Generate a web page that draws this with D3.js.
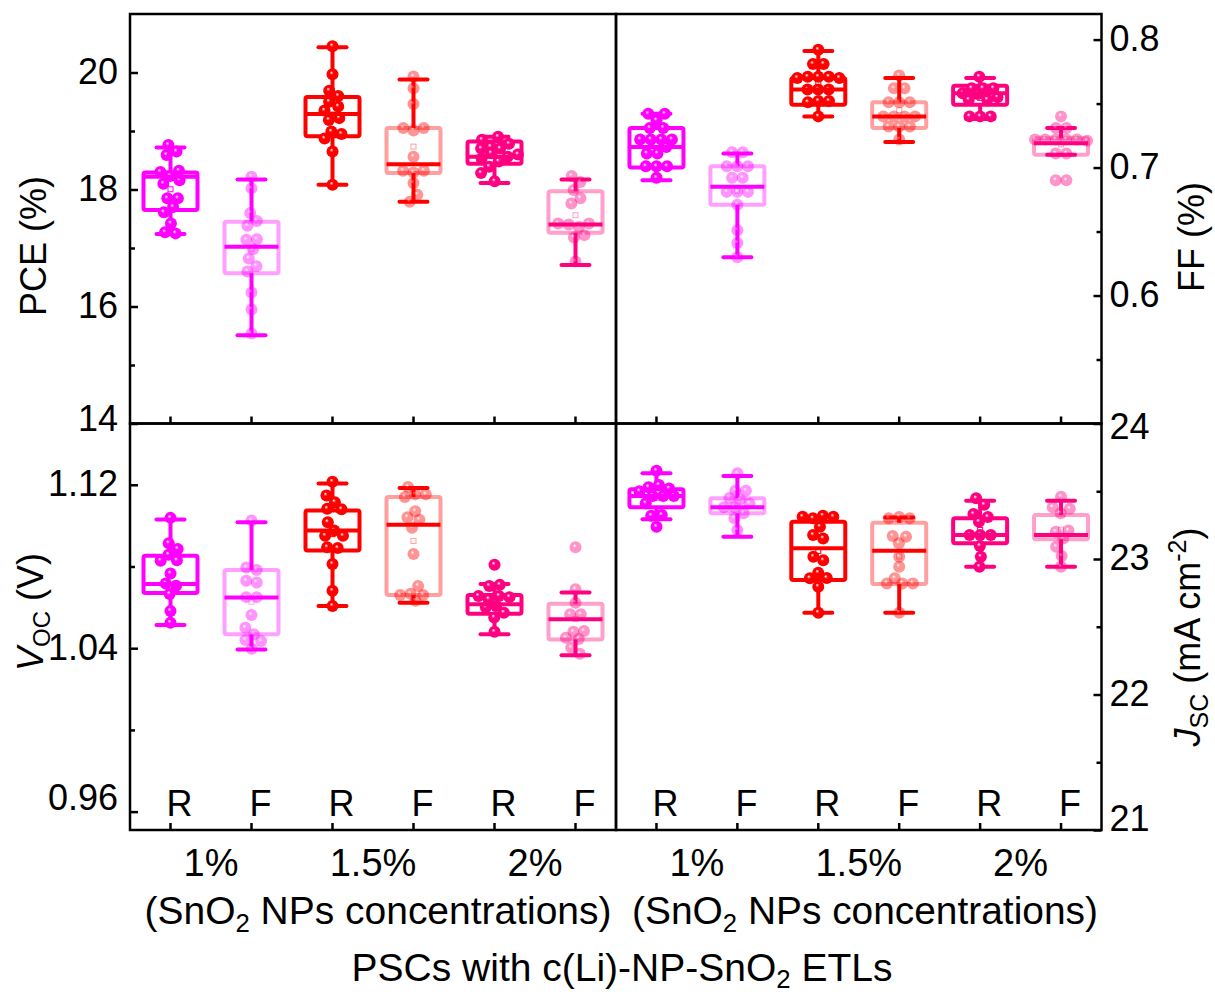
<!DOCTYPE html>
<html>
<head>
<meta charset="utf-8">
<style>
  body { margin: 0; background: #fff; }
  svg { display: block; font-family: "Liberation Sans", Arial, sans-serif; }
</style>
</head>
<body>
<script src="https://cdn.jsdelivr.net/npm/d3@7"></script>
<script>
var groups = ["1R", "1F", "15R", "15F", "2R", "2F"];
var runLabels = ["R", "F", "R", "F", "R", "F"];
var concLabels = ["1%", "1.5%", "2%"];
var darkColors = ["#ff00ff", "#ff00ff", "#ff0000", "#ff0000", "#ff0080", "#ff0080"];
var boxColors = ["#ff00ff", "#ffa0ff", "#ff0000", "#ffa0a0", "#ff0080", "#ffa0cc"];

// box stats: [min, q1, median, q3, max]
var pceBox = [[17.24, 17.65, 18.22, 18.29, 18.72], [15.51, 16.57, 17.02, 17.45, 18.17],
  [18.08, 18.91, 19.29, 19.58, 20.43], [17.79, 18.28, 18.43, 19.05, 19.88],
  [18.11, 18.44, 18.56, 18.82, 18.90], [16.71, 17.26, 17.40, 17.97, 18.17]];
var pcePts = [
  [18.76, 18.65, 18.59, 18.32, 18.30, 18.23, 18.16, 18.10, 17.85, 17.85, 17.70, 17.61, 17.42, 17.25, 17.27],
  [18.22, 18.02, 17.60, 17.46, 17.38, 17.14, 17.15, 16.98, 16.82, 16.69, 16.60, 16.24, 15.95, 15.54],
  [20.45, 19.97, 19.69, 19.60, 19.50, 19.42, 19.35, 19.19, 19.22, 18.99, 18.95, 18.87, 18.65, 18.08],
  [19.93, 19.73, 19.46, 19.01, 19.05, 19.05, 18.56, 18.29, 18.32, 18.32, 18.11, 17.91, 17.79],
  [18.90, 18.85, 18.73, 18.78, 18.70, 18.70, 18.62, 18.60, 18.53, 18.48, 18.56, 18.39, 18.28, 18.14],
  [18.23, 18.13, 17.99, 17.85, 17.76, 17.42, 17.36, 17.40, 17.22, 17.18, 17.42, 16.77]];

var ffBox = [[0.690, 0.700, 0.716, 0.731, 0.742], [0.630, 0.671, 0.685, 0.701, 0.711],
  [0.740, 0.749, 0.761, 0.770, 0.791], [0.720, 0.731, 0.740, 0.751, 0.770],
  [0.738, 0.749, 0.758, 0.764, 0.770], [0.710, 0.710, 0.719, 0.723, 0.731]];
var ffPts = [
  [0.742, 0.742, 0.737, 0.731, 0.731, 0.722, 0.722, 0.722, 0.722, 0.716, 0.711, 0.711, 0.701, 0.701, 0.701, 0.692],
  [0.712, 0.712, 0.701, 0.701, 0.701, 0.692, 0.692, 0.681, 0.681, 0.681, 0.671, 0.651, 0.641, 0.630],
  [0.792, 0.781, 0.781, 0.771, 0.771, 0.770, 0.771, 0.770, 0.761, 0.761, 0.761, 0.752, 0.751, 0.752, 0.740],
  [0.772, 0.762, 0.762, 0.751, 0.751, 0.751, 0.740, 0.740, 0.740, 0.740, 0.732, 0.732, 0.732, 0.722],
  [0.771, 0.762, 0.762, 0.762, 0.7575, 0.753, 0.753, 0.755, 0.740, 0.740, 0.740, 0.758],
  [0.740, 0.731, 0.731, 0.722, 0.722, 0.722, 0.722, 0.722, 0.721, 0.711, 0.711, 0.690, 0.690]];

var vocBox = [[1.0513, 1.067, 1.0714, 1.0853, 1.103], [1.0394, 1.0468, 1.0648, 1.0783, 1.1017],
  [1.0607, 1.0878, 1.0976, 1.1074, 1.1206], [1.0623, 1.0661, 1.1004, 1.114, 1.1184],
  [1.0468, 1.0569, 1.0615, 1.066, 1.0714], [1.0365, 1.0443, 1.0542, 1.0618, 1.0673]];
var vocPts = [
  [1.1038, 1.0914, 1.0886, 1.0858, 1.0828, 1.0830, 1.0766, 1.0717, 1.0706, 1.0665, 1.0582, 1.0525],
  [1.1025, 1.0783, 1.0795, 1.0722, 1.0730, 1.0650, 1.0650, 1.0563, 1.0500, 1.0468, 1.0435, 1.0440, 1.0397],
  [1.1215, 1.1148, 1.1115, 1.1083, 1.1080, 1.1017, 1.0976, 1.0951, 1.0950, 1.0894, 1.0890, 1.0812, 1.0681, 1.0607],
  [1.1189, 1.1153, 1.1153, 1.1140, 1.1071, 1.1041, 1.1029, 1.0990, 1.0861, 1.0705, 1.0667, 1.0660, 1.0660, 1.0632],
  [1.0809, 1.0705, 1.0710, 1.0656, 1.0650, 1.0656, 1.0640, 1.0607, 1.0600, 1.0574, 1.0550, 1.0480],
  [1.0894, 1.0689, 1.0623, 1.0566, 1.0566, 1.0484, 1.0480, 1.0451, 1.0445, 1.0402, 1.0373]];

var jscBox = [[23.293, 23.381, 23.465, 23.514, 23.632], [23.165, 23.337, 23.381, 23.448, 23.613],
  [22.604, 22.845, 23.079, 23.275, 23.312], [22.604, 22.815, 23.061, 23.268, 23.307],
  [22.943, 23.116, 23.177, 23.300, 23.430], [22.943, 23.145, 23.177, 23.325, 23.430]];
var jscPts = [
  [23.652, 23.546, 23.52, 23.53, 23.465, 23.465, 23.50, 23.465, 23.411, 23.325, 23.32, 23.238],
  [23.632, 23.504, 23.504, 23.44, 23.45, 23.41, 23.381, 23.381, 23.337, 23.30, 23.214],
  [23.312, 23.32, 23.312, 23.30, 23.238, 23.177, 23.152, 23.017, 22.99, 22.899, 22.858, 22.86, 22.796, 22.604],
  [23.30, 23.31, 23.30, 23.165, 23.17, 23.116, 23.017, 22.943, 22.858, 22.82, 22.82, 22.82, 22.604],
  [23.448, 23.40, 23.332, 23.31, 23.275, 23.177, 23.177, 23.177, 23.096, 23.017, 22.943],
  [23.46, 23.381, 23.37, 23.337, 23.201, 23.21, 23.152, 23.09, 23.022, 22.943]];

var W = 1215, H = 996;
var xL = [130, 616], xR = [616, 1101.5];
var yT = [14, 423.5], yB = [423.5, 830];

var panels = [
  { box: pceBox, pts: pcePts, domain: [14, 21], major: [14, 16, 18, 20], minor: [15, 17, 19], xr: xL, yr: yT, side: "left", fmt: d3.format("d"), runs: false },
  { box: ffBox, pts: ffPts, domain: [0.5, 0.82], major: [0.6, 0.7, 0.8], minor: [0.55, 0.65, 0.75], xr: xR, yr: yT, side: "right", fmt: d3.format(".1f"), runs: false },
  { box: vocBox, pts: vocPts, domain: [0.951, 1.15], major: [0.96, 1.04, 1.12], minor: [1.0, 1.08], xr: xL, yr: yB, side: "left", fmt: d3.format(".2f"), runs: true },
  { box: jscBox, pts: jscPts, domain: [21, 24], major: [21, 22, 23, 24], minor: [21.5, 22.5, 23.5], xr: xR, yr: yB, side: "right", fmt: d3.format("d"), runs: true }
];

var svg = d3.select("body").append("svg").attr("width", W).attr("height", H);

// shiny ball gradients
var defs = svg.append("defs");
darkColors.forEach(function (c, i) {
  var g = defs.append("radialGradient").attr("id", "ball" + i)
    .attr("cx", "50%").attr("cy", "50%").attr("r", "55%").attr("fx", "40%").attr("fy", "35%");
  g.append("stop").attr("offset", "0%").attr("stop-color", "#fff").attr("stop-opacity", 0.95);
  g.append("stop").attr("offset", "30%").attr("stop-color", c);
  g.append("stop").attr("offset", "100%").attr("stop-color", c);
});

panels.forEach(function (p) {
  var x = d3.scaleBand().domain(groups).range(p.xr).padding(0);
  var y = d3.scaleLinear().domain(p.domain).range([p.yr[1], p.yr[0]]);
  var bw = 54, cap = 28;
  var g = svg.append("g");

  // y axis, major + minor, ticks inward
  var ax = p.side === "left" ? d3.axisLeft : d3.axisRight;
  var axPos = p.side === "left" ? p.xr[0] : p.xr[1];
  var yAxis = g.append("g").attr("transform", "translate(" + axPos + ",0)")
    .call(ax(y).tickValues(p.major).tickSize(-8).tickSizeOuter(0).tickPadding(p.side === "left" ? 12 : 8).tickFormat(p.fmt));
  g.append("g").attr("transform", "translate(" + axPos + ",0)")
    .call(ax(y).tickValues(p.minor).tickSize(-5).tickSizeOuter(0).tickFormat(""));
  yAxis.selectAll("text").attr("font-size", 36).attr("font-family", "Liberation Sans, Arial, sans-serif").attr("fill", "#000")
    .attr("dy", function (d) {
      if (d === p.domain[0] && p.runs) return "0.0em";
      if (d === 0.96) return "-0.07em";
      if (d === 24) return "0.42em";
      if (d === 14) return "0.2em";
      return "0.3em";
    });

  // x axis ticks at panel bottom, pointing up
  var xAxis = g.append("g").attr("transform", "translate(0," + p.yr[1] + ")")
    .call(d3.axisBottom(x).tickSize(-7).tickSizeOuter(0).tickPadding(-40)
      .tickFormat(function (d, i) { return p.runs ? runLabels[i] : ""; }));
  xAxis.selectAll("text").attr("font-size", 36).attr("font-family", "Liberation Sans, Arial, sans-serif")
    .attr("fill", "#000").attr("dx", 9);

  svg.selectAll(".domain").remove();
  g.selectAll(".tick line").attr("stroke", "#000").attr("stroke-width", 2.5);

  // boxes
  groups.forEach(function (gr, i) {
    var b = p.box[i];
    var cx = x(gr) + x.bandwidth() / 2;
    var bg = g.append("g");
    bg.append("rect").attr("x", cx - bw / 2).attr("y", y(b[3])).attr("width", bw)
      .attr("height", y(b[1]) - y(b[3])).attr("rx", 2)
      .attr("fill", "none").attr("stroke", boxColors[i]).attr("stroke-width", 4);
    bg.append("line").attr("x1", cx).attr("x2", cx).attr("y1", y(b[4])).attr("y2", y(b[3]))
      .attr("stroke", darkColors[i]).attr("stroke-width", 4);
    bg.append("line").attr("x1", cx).attr("x2", cx).attr("y1", y(b[1])).attr("y2", y(b[0]))
      .attr("stroke", darkColors[i]).attr("stroke-width", 4);
    [b[0], b[4]].forEach(function (v) {
      bg.append("line").attr("x1", cx - cap / 2).attr("x2", cx + cap / 2).attr("y1", y(v)).attr("y2", y(v))
        .attr("stroke", darkColors[i]).attr("stroke-width", 4).attr("stroke-linecap", "round");
    });
    var m = d3.mean(p.pts[i]);
    bg.append("rect").attr("x", cx - 2.5).attr("y", y(m) - 2.5).attr("width", 5).attr("height", 5)
      .attr("fill", "#fff").attr("stroke", boxColors[i]).attr("stroke-width", 1);

    // points as a small beeswarm around the box centre
    var nodes = p.pts[i].map(function (v) { return { v: v, x: cx, y: y(v) }; });
    var sim = d3.forceSimulation(nodes)
      .force("x", d3.forceX(cx).strength(0.05))
      .force("y", d3.forceY(function (d) { return y(d.v); }).strength(1))
      .force("c", d3.forceCollide(5.3))
      .stop();
    for (var k = 0; k < 200; k++) sim.tick();
    var light = i % 2 === 1;
    bg.selectAll("circle").data(nodes).join("circle")
      .attr("cx", function (d) { return Math.max(cx - 26, Math.min(cx + 26, d.x)); })
      .attr("cy", function (d) { return y(d.v); })
      .attr("r", 6)
      .attr("fill", "url(#ball" + i + ")")
      .attr("opacity", light ? 0.42 : 1);

    bg.append("line").attr("x1", cx - bw / 2).attr("x2", cx + bw / 2).attr("y1", y(b[2])).attr("y2", y(b[2]))
      .attr("stroke", darkColors[i]).attr("stroke-width", 4);
  });

  // frame
  g.append("rect").attr("x", p.xr[0]).attr("y", p.yr[0]).attr("width", p.xr[1] - p.xr[0])
    .attr("height", p.yr[1] - p.yr[0]).attr("fill", "none").attr("stroke", "#000").attr("stroke-width", 2.5);
});

// concentration labels under each pair of runs
var xBandL = d3.scaleBand().domain(groups).range(xL).padding(0);
var xBandR = d3.scaleBand().domain(groups).range(xR).padding(0);
[xBandL, xBandR].forEach(function (xs) {
  concLabels.forEach(function (c, j) {
    var cx = (xs(groups[2 * j]) + xs(groups[2 * j + 1])) / 2 + xs.bandwidth() / 2;
    svg.append("text").attr("x", cx).attr("y", 876).attr("text-anchor", "middle")
      .attr("font-size", 38).text(c);
  });
});

// size a text so its width matches the reference
function fitText(t, target) {
  var w = t.node().getBBox().width;
  var fs = +t.attr("font-size") * target / w;
  t.attr("font-size", fs);
}

[[378, 467], [865, 466]].forEach(function (c) {
  var t = svg.append("text").attr("x", c[0]).attr("y", 924).attr("text-anchor", "middle").attr("font-size", 38);
  t.append("tspan").text("(SnO");
  t.append("tspan").attr("font-size", "0.66em").attr("dy", 8).text("2");
  t.append("tspan").attr("dy", -8).text(" NPs concentrations)");
  fitText(t, c[1]);
});

var tt = svg.append("text").attr("x", 622).attr("y", 981).attr("text-anchor", "middle").attr("font-size", 38);
tt.append("tspan").text("PSCs with c(Li)-NP-SnO");
tt.append("tspan").attr("font-size", "0.66em").attr("dy", 7).text("2");
tt.append("tspan").attr("dy", -7).text(" ETLs");
fitText(tt, 541);

// y axis titles
svg.append("text").attr("transform", "translate(46,246) rotate(-90)").attr("text-anchor", "middle")
  .attr("font-size", 36).text("PCE (%)");

var tv = svg.append("text").attr("transform", "translate(43,612) rotate(-90)").attr("text-anchor", "middle")
  .attr("font-size", 36);
tv.append("tspan").attr("font-style", "italic").text("V");
tv.append("tspan").attr("font-size", 24).attr("dy", 7).text("OC");
tv.append("tspan").attr("dy", -7).text(" (V)");

svg.append("text").attr("transform", "translate(1204,237) rotate(-90)").attr("text-anchor", "middle")
  .attr("font-size", 36).text("FF (%)");

var tj = svg.append("text").attr("transform", "translate(1200,637) rotate(-90)").attr("text-anchor", "middle")
  .attr("font-size", 36);
tj.append("tspan").attr("font-style", "italic").text("J");
tj.append("tspan").attr("font-size", 25).attr("dy", 8).text("SC");
tj.append("tspan").attr("dy", -8).text(" (mA cm");
tj.append("tspan").attr("font-size", 25).attr("dy", -14).text("-2");
tj.append("tspan").attr("dy", 14).text(")");
</script>
</body>
</html>
